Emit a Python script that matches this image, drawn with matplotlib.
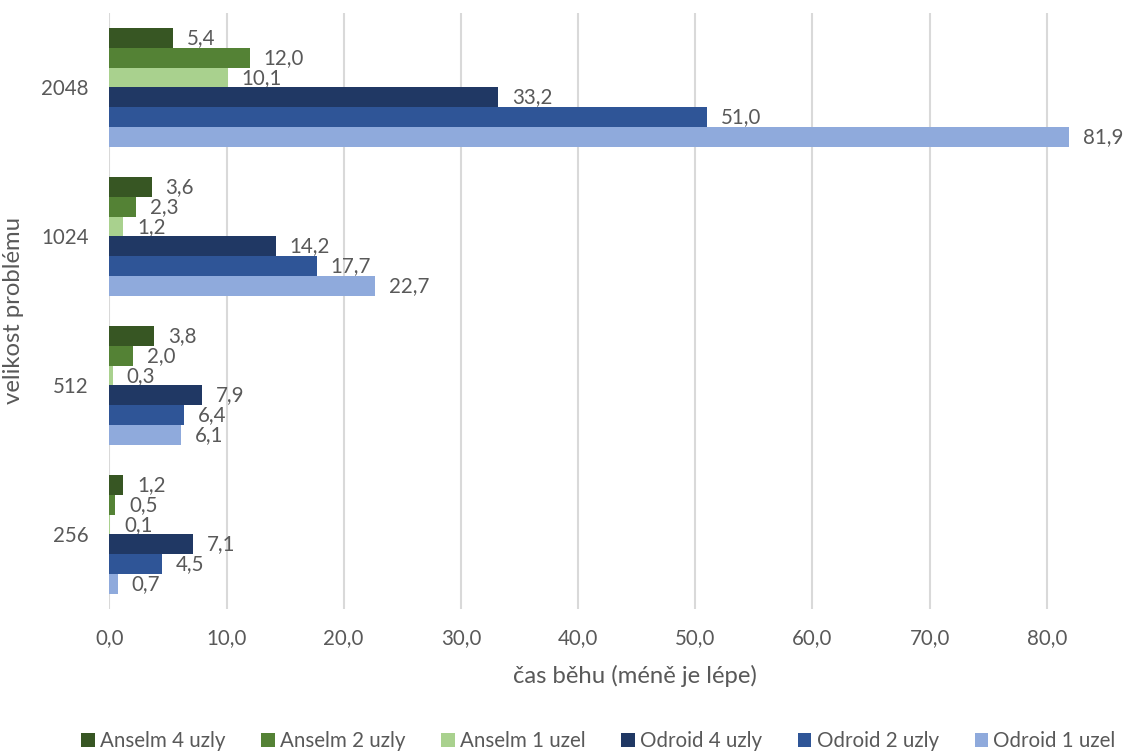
import matplotlib
matplotlib.use("Agg")
import matplotlib.pyplot as plt
import numpy as np

categories = ["256", "512", "1024", "2048"]
series_names = ["Anselm 4 uzly", "Anselm 2 uzly", "Anselm 1 uzel",
                "Odroid 4 uzly", "Odroid 2 uzly", "Odroid 1 uzel"]
anselm4 = [1.2, 3.8, 3.6, 5.4]
anselm2 = [0.5, 2.0, 2.3, 12.0]
anselm1 = [0.1, 0.3, 1.2, 10.1]
odroid4 = [7.1, 7.9, 14.2, 33.2]
odroid2 = [4.5, 6.4, 17.7, 51.0]
odroid1 = [0.7, 6.1, 22.7, 81.9]
series_values = [anselm4, anselm2, anselm1, odroid4, odroid2, odroid1]
colors = ["#375623", "#548235", "#A9D18E", "#203864", "#2F5597", "#8FAADC"]
xticks = [0, 10, 20, 30, 40, 50, 60, 70, 80]

plt.rcParams['font.family'] = ['Lato', 'DejaVu Sans']
txt = "#595959"
fs = 14.8
fs_title = 17.2

fig = plt.figure(figsize=(11.27, 7.55), dpi=100)
ax = fig.add_axes([0.0970, 0.1934, 0.8942, 0.7894])

n = len(series_names)
group_w = 0.7937
bh = group_w / n
y = np.arange(len(categories))
for i, (name, vals, c) in enumerate(zip(series_names, series_values, colors)):
    # first series at top of each group
    pos = y + group_w / 2 - bh * (i + 0.5)
    bars = ax.barh(pos, vals, height=bh, color=c, label=name, zorder=3)
    labels = [f"{v:.1f}".replace(".", ",") for v in vals]
    ax.bar_label(bars, labels=labels, padding=10, fontsize=fs, color=txt)

ax.set_xlim(0, 86)
ax.set_ylim(-0.5, len(categories) - 0.5)
ax.set_xticks(xticks)
ax.set_xticklabels([f"{t:.1f}".replace(".", ",") for t in xticks], fontsize=fs, color=txt)
ax.set_yticks(y)
ax.set_yticklabels(categories, fontsize=fs, color=txt)
ax.tick_params(axis='y', length=0, pad=15)
ax.tick_params(axis='x', length=0, pad=14)
for s in ax.spines.values():
    s.set_visible(False)
ax.grid(axis='x', color="#D9D9D9", linewidth=1.5, zorder=0)
ax.set_axisbelow(True)

ax.set_xlabel("čas běhu (méně je lépe)", fontsize=fs_title, color=txt, labelpad=13)
ax.xaxis.set_label_coords(0.522, -0.093)
ax.set_ylabel("velikost problému", fontsize=fs_title, color=txt, labelpad=12)

fig.legend(loc='center', bbox_to_anchor=(0.531, 0.018), ncol=6, frameon=False,
           fontsize=fs, labelcolor=txt, handlelength=0.65, handleheight=0.65,
           handletextpad=0.25, columnspacing=1.75)

fig.savefig("out.png", dpi=100)
